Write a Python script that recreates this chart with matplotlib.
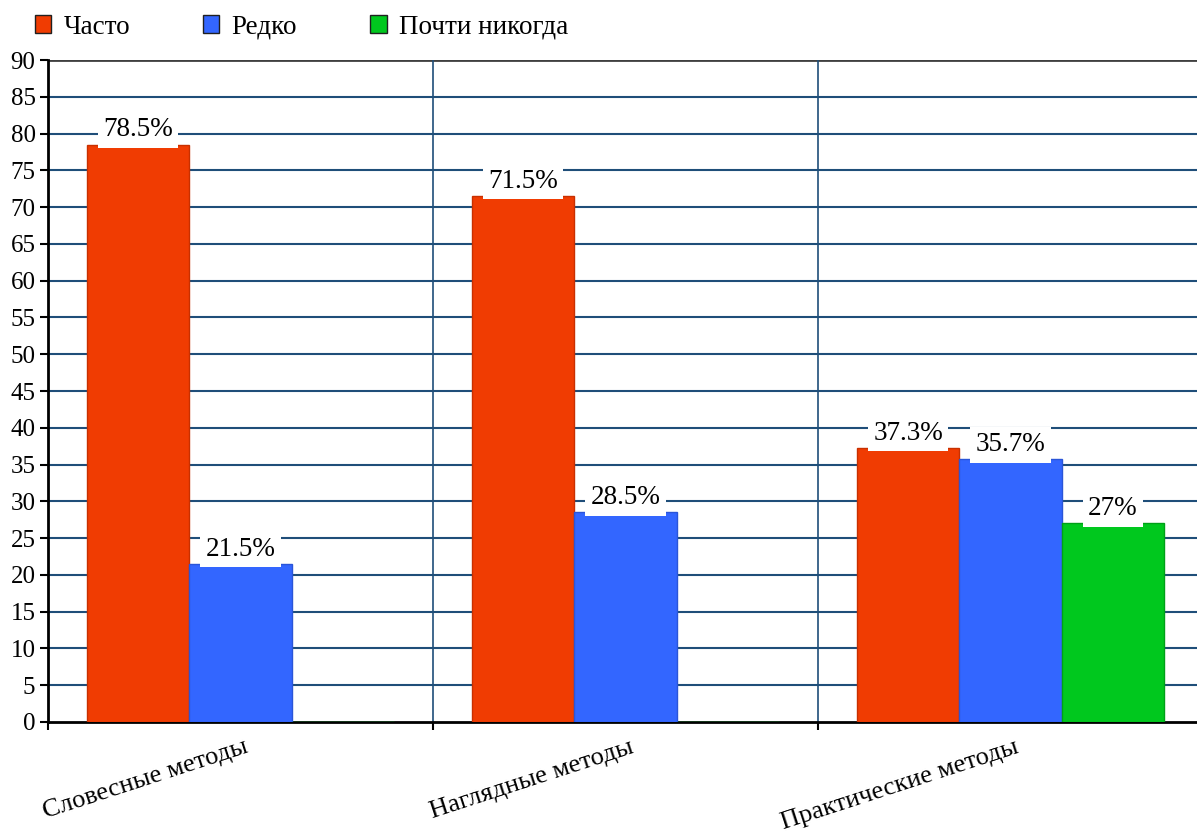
import matplotlib
matplotlib.use("Agg")
import matplotlib.pyplot as plt
import numpy as np
from matplotlib.patches import Patch

categories = ["Словесные методы", "Наглядные методы", "Практические методы"]
series_names = ["Часто", "Редко", "Почти никогда"]
often = [78.5, 71.5, 37.3]
rarely = [21.5, 28.5, 35.7]
never = [0, 0, 27]
label_often = ["78.5%", "71.5%", "37.3%"]
label_rarely = ["21.5%", "28.5%", "35.7%"]
label_never = [None, None, "27%"]
yticks = list(range(0, 95, 5))

colors = ["#F03C02", "#3366FF", "#00C81E"]
edges = ["#C83000", "#2A55D8", "#00A018"]

plt.rcParams['font.family'] = ['Liberation Serif', 'DejaVu Serif']

fig = plt.figure(figsize=(11.97, 8.32), dpi=100)
ax = fig.add_axes([48/1197, 110/832, (1203-48)/1197, 662/832])

x = np.arange(len(categories))
w = 0.266
grid_c = "#1F4E79"
for i, (vals, labs) in enumerate(zip([often, rarely, never], [label_often, label_rarely, label_never])):
    pos = x + (i - 1) * w
    bars = ax.bar(pos, vals, width=w, color=colors[i], edgecolor=edges[i], linewidth=1, zorder=3)
    for b, v, lab in zip(bars, vals, labs):
        if lab is None or v == 0:
            continue
        ax.text(b.get_x() + b.get_width()/2, v + 1.1, lab, ha='center', va='baseline',
                fontsize=19.5, color='black', zorder=5,
                bbox=dict(boxstyle='square,pad=0.2', fc='white', ec='none'))

ax.set_xlim(-0.5, 2.5)
ax.set_ylim(0, 90)
ax.set_yticks(yticks)
ax.set_yticklabels([str(t) for t in yticks], fontsize=18)
for yv in yticks[1:-1]:
    ax.axhline(yv, color=grid_c, lw=1.5, zorder=1)
ax.axhline(90, color="#404040", lw=2, zorder=1)
for xv in [0.5, 1.5]:
    ax.axvline(xv, color=grid_c, lw=1.2, zorder=1)

ax.set_xticks([-0.5, 0.5, 1.5])
ax.set_xticklabels([])
ax.tick_params(axis='x', length=6, width=1.5, direction='out')
ax.tick_params(axis='y', length=6, width=1.5, direction='out', pad=3)
for i, c in enumerate(categories):
    ax.text(i + 0.01, -1.9, c, rotation=18, ha='right', va='top', rotation_mode='anchor',
            fontsize=19, transform=ax.transData, color='black')

ax.spines['left'].set_linewidth(2)
ax.spines['bottom'].set_linewidth(2)
ax.spines['top'].set_visible(False)
ax.spines['right'].set_visible(False)

handles = [Patch(facecolor=colors[i], edgecolor='#202020', linewidth=1) for i in range(3)]
fig.legend(handles, series_names, loc='center left', bbox_to_anchor=(35/1197, 1 - 27/832), ncol=3,
           frameon=False, fontsize=19.5, handlelength=0.6, handleheight=0.6,
           handletextpad=0.45, columnspacing=2.7, borderpad=0, borderaxespad=0)

fig.savefig("out.png", dpi=100)
